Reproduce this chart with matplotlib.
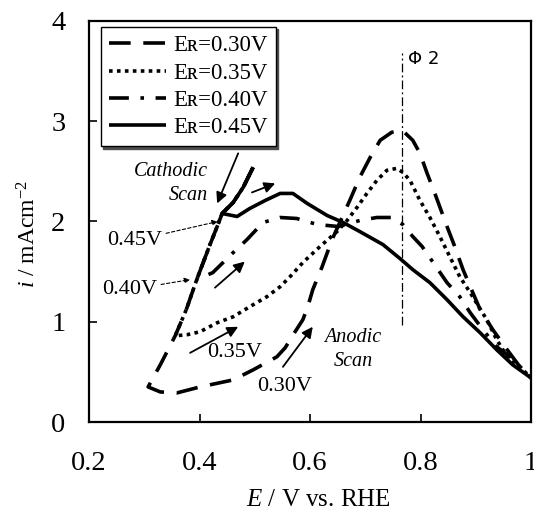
import matplotlib
matplotlib.use("Agg")
import matplotlib.pyplot as plt

plt.rcParams['font.family'] = ['Liberation Serif', 'DejaVu Serif']
plt.rcParams['mathtext.fontset'] = 'custom'
plt.rcParams['mathtext.rm'] = 'Liberation Serif'
plt.rcParams['mathtext.it'] = 'Liberation Serif:italic'

# ---- data (E / V vs RHE, i / mA cm-2) ----
# common cathodic branch, from high potential down
cath_E = [0.497, 0.479, 0.461, 0.441, 0.432, 0.419, 0.395, 0.376, 0.356, 0.329, 0.307]
cath_i = [2.54, 2.34, 2.19, 2.08, 1.95, 1.77, 1.42, 1.12, 0.86, 0.57, 0.35]

an30_E = [0.307, 0.329, 0.359, 0.401, 0.461, 0.497, 0.540, 0.555, 0.573, 0.587, 0.596, 0.605,
          0.622, 0.640, 0.658, 0.672, 0.690, 0.709, 0.727, 0.748, 0.767, 0.786, 0.799, 0.812,
          0.826, 0.848, 0.862, 0.877, 0.890, 0.908, 0.931, 0.957, 0.980, 1.000]
an30_i = [0.35, 0.30, 0.29, 0.35, 0.42, 0.52, 0.65, 0.74, 0.90, 1.02, 1.15, 1.32,
          1.55, 1.82, 2.04, 2.21, 2.44, 2.64, 2.81, 2.89, 2.91, 2.81, 2.68, 2.48,
          2.28, 1.95, 1.75, 1.52, 1.35, 1.12, 0.92, 0.72, 0.55, 0.44]

an35_E = [0.356, 0.377, 0.401, 0.432, 0.461, 0.491, 0.522, 0.546, 0.564, 0.587, 0.618, 0.649,
          0.667, 0.685, 0.703, 0.721, 0.739, 0.757, 0.768, 0.781, 0.799, 0.817, 0.835, 0.853,
          0.871, 0.890, 0.920, 0.938, 0.957, 0.980, 1.000]
an35_i = [0.86, 0.87, 0.90, 0.99, 1.05, 1.15, 1.25, 1.35, 1.45, 1.59, 1.75, 1.90,
          2.01, 2.14, 2.28, 2.41, 2.51, 2.53, 2.49, 2.41, 2.21, 2.04, 1.85, 1.65,
          1.45, 1.29, 1.02, 0.82, 0.65, 0.55, 0.44]

an40_E = [0.395, 0.424, 0.461, 0.486, 0.515, 0.546, 0.576, 0.613, 0.651, 0.690, 0.721, 0.748,
          0.768, 0.786, 0.803, 0.823, 0.848, 0.871, 0.890, 0.913, 0.938, 0.962, 0.986, 1.000]
an40_i = [1.42, 1.49, 1.69, 1.82, 1.99, 2.04, 2.03, 1.97, 1.95, 2.01, 2.04, 2.04,
          1.97, 1.85, 1.75, 1.59, 1.39, 1.25, 1.09, 0.92, 0.75, 0.65, 0.52, 0.44]

an45_E = [0.441, 0.468, 0.491, 0.519, 0.546, 0.569, 0.595, 0.631, 0.660, 0.690, 0.732, 0.763,
          0.786, 0.817, 0.848, 0.877, 0.908, 0.938, 0.967, 1.000]
an45_i = [2.08, 2.05, 2.13, 2.21, 2.28, 2.28, 2.18, 2.06, 1.99, 1.90, 1.77, 1.63,
          1.52, 1.39, 1.22, 1.05, 0.89, 0.72, 0.57, 0.44]

turn_index = {"0.30": 10, "0.35": 8, "0.40": 6, "0.45": 3}
labels = ["Eʀ=0.30V", "Eʀ=0.35V", "Eʀ=0.40V", "Eʀ=0.45V"]

x_ticks = [0.2, 0.4, 0.6, 0.8, 1.0]
x_ticklabels = ["0.2", "0.4", "0.6", "0.8", "1"]
y_ticks = [0, 1, 2, 3, 4]

phi_E = 0.766
phi_i = [0.97, 3.68]

# ---- figure ----
fig = plt.figure(figsize=(5.34, 5.11), dpi=100)
ax = fig.add_axes([89/534, 89/511, 442/534, 401/511])

styles = {
    "0.30": dict(ls=(0, (6, 3.5))),
    "0.35": dict(ls=(0, (1, 1.2))),
    "0.40": dict(ls=(0, (5.5, 3.2, 1, 3.2))),
    "0.45": dict(ls='-'),
}
series = [("0.30", an30_E, an30_i), ("0.35", an35_E, an35_i),
          ("0.40", an40_E, an40_i), ("0.45", an45_E, an45_i)]
for (key, aE, ai), lab in zip(series, labels):
    k = turn_index[key]
    E = cath_E[:k + 1] + aE[1:]
    I = cath_i[:k + 1] + ai[1:]
    ax.plot(E, I, color='k', lw=2.6, dash_capstyle='butt', solid_capstyle='butt',
            label=lab, **styles[key])

ax.plot([phi_E, phi_E], phi_i, color='k', lw=0.9, ls=(0, (7, 2.5, 1.5, 2.5)))
ax.text(0.777, 3.62, "Φ 2", family=['DejaVu Sans'], fontsize=13, ha='left', va='center')

ax.set_xlim(0.2, 1.0)
ax.set_ylim(0, 4)
ax.set_xticks(x_ticks)
ax.set_xticklabels(x_ticklabels)
ax.set_yticks(y_ticks)
ax.tick_params(direction='in', length=6, width=1.2, labelsize=20.5, top=False, right=False)
ax.tick_params(axis='x', pad=21)
ax.tick_params(axis='y', pad=17)
for s in ax.spines.values():
    s.set_linewidth(1.6)

ax.set_xlabel(r'$\mathit{E}$ / V vs. RHE', fontsize=18)
ax.xaxis.set_label_coords(0.518, -0.168)
ax.set_ylabel(r'$\mathit{i}$ / mAcm$^{\mathregular{-2}}$', fontsize=17)
ax.yaxis.set_label_coords(-0.11, 0.47)

leg = ax.legend(loc='upper left', bbox_to_anchor=(0.027, 0.985), borderaxespad=0,
                fontsize=16.5, handlelength=2.5, handletextpad=0.3, labelspacing=0.28,
                borderpad=0.35, fancybox=False, framealpha=1,
                shadow={'ox': 1.5, 'oy': -1.5, 'color': '0.3', 'alpha': 1})
leg.get_frame().set_edgecolor('k')
leg.get_frame().set_linewidth(1.0)

# annotations
aprops = dict(arrowstyle='-|>', lw=1.3, color='k', mutation_scale=16, shrinkA=0, shrinkB=0)
ax.annotate('', xy=(0.432, 2.18), xytext=(0.470, 2.68), arrowprops=aprops)
ax.annotate('', xy=(0.537, 2.38), xytext=(0.495, 2.29), arrowprops=aprops)
ax.annotate('', xy=(0.482, 1.60), xytext=(0.428, 1.34), arrowprops=aprops)
ax.annotate('', xy=(0.470, 0.95), xytext=(0.383, 0.69), arrowprops=aprops)
ax.annotate('', xy=(0.605, 0.95), xytext=(0.551, 0.55), arrowprops=aprops)

ax.text(0.415, 2.38, "Cathodic\nScan", style='italic', fontsize=14.5, ha='right',
        va='center', multialignment='right', linespacing=1.35)
ax.text(0.678, 0.72, "Anodic\nScan", style='italic', fontsize=14.5, ha='center',
        va='center', multialignment='center', linespacing=1.35)

dprops = dict(arrowstyle='-|>', lw=0.8, color='k', linestyle=(0, (3, 2)),
              mutation_scale=8, shrinkA=1, shrinkB=0)
ax.annotate('0.45V', xy=(0.433, 2.0), xytext=(0.332, 1.81), ha='right', va='center',
            fontsize=16, arrowprops=dprops)
ax.annotate('0.40V', xy=(0.383, 1.42), xytext=(0.323, 1.32), ha='right', va='center',
            fontsize=16, arrowprops=dprops)
ax.text(0.414, 0.69, '0.35V', fontsize=16, ha='left', va='center')
ax.text(0.504, 0.35, '0.30V', fontsize=16, ha='left', va='center')

fig.savefig('out.png', dpi=100)
